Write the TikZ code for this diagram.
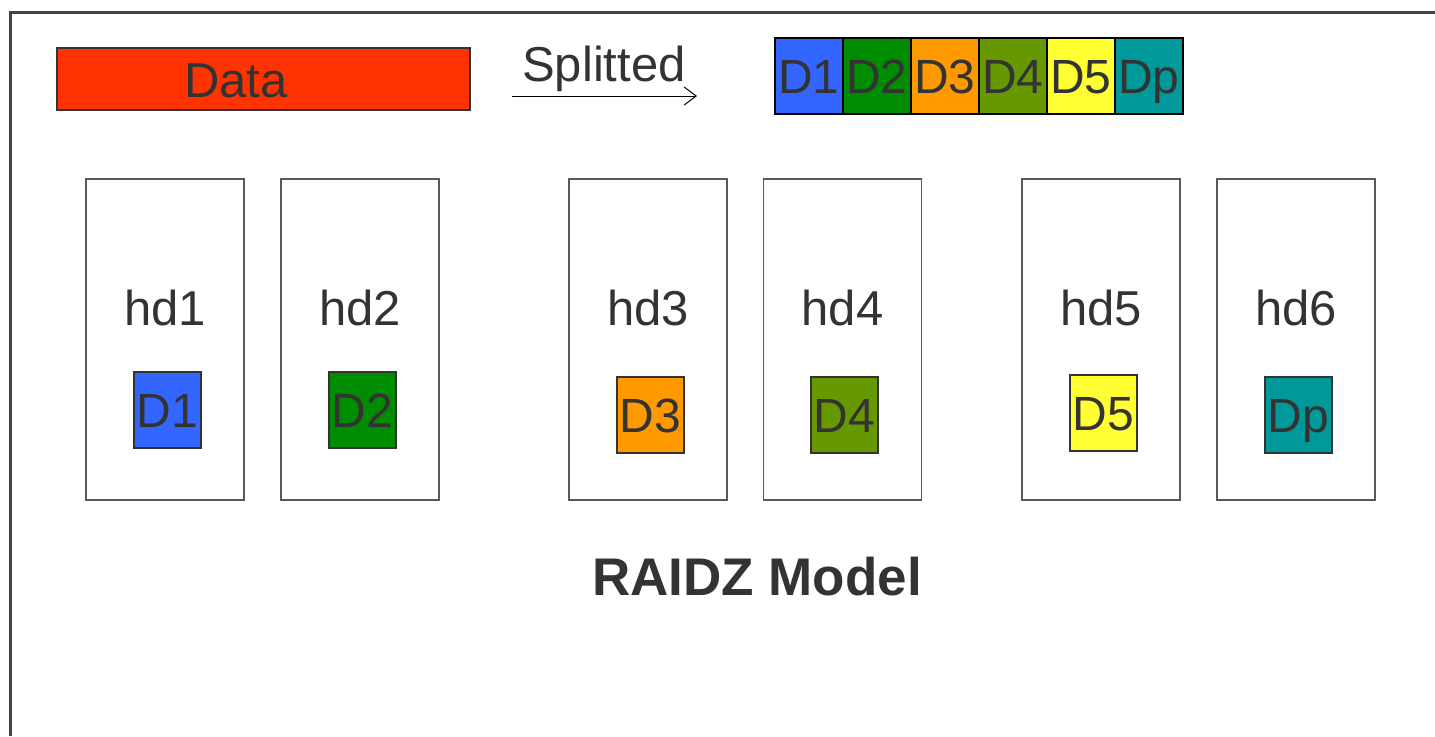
\documentclass[tikz,border=0pt]{standalone}
\usepackage{fontspec}
\setmainfont{Liberation Sans}
\usetikzlibrary{arrows.meta}
\definecolor{txt}{HTML}{333333}
\definecolor{frm}{HTML}{444444}
\definecolor{datared}{HTML}{FF3300}
\definecolor{cA}{HTML}{3366FF}
\definecolor{cB}{HTML}{008C00}
\definecolor{cC}{HTML}{FF9900}
\definecolor{cD}{HTML}{669900}
\definecolor{cE}{HTML}{FFFF33}
\definecolor{cF}{HTML}{009999}
\tikzset{
  lbl/.style={font=\fontsize{24.5}{28}\selectfont, text=txt, inner sep=0pt},
  cell/.style={draw=black, line width=1pt, minimum width=34pt, minimum height=38pt, inner sep=0pt, font=\fontsize{24}{28}\selectfont, text=txt, text height=17.5pt, text depth=0pt},
  chunk/.style={draw=black!80, line width=0.8pt, minimum width=33.5pt, minimum height=38pt, inner sep=0pt, font=\fontsize{24}{28}\selectfont, text=txt, text height=17.5pt, text depth=0pt},
  disk/.style={draw=black!65, line width=0.9pt, minimum width=79pt, minimum height=160.5pt, inner sep=0pt},
}
\begin{document}
\begin{tikzpicture}[x=0.5pt,y=-0.5pt]
\useasboundingbox[fill=white] (0,0) rectangle (1435,736);
% frame
\draw[frm, line width=1.5pt] (10,736) -- (10,12) -- (1435,12);
% data block
\node[draw=black!80, line width=0.8pt, fill=datared, minimum width=206.5pt, minimum height=31pt, inner sep=0pt] (data) at (263.5,79) {};
\node[lbl, text height=17.5pt, text depth=0pt] (datal) at (236,80) {Data};
% splitted arrow
\coordinate (as) at (512,96);
\coordinate (ae) at (697,96);
\draw[line width=0.5pt, -{Straight Barb[length=6pt,width=9pt]}] (as) -- (ae);
\node[lbl, anchor=base] (split) at (604,81) {Splitted};
% strip
\node[cell, fill=cA] (s1) at (809,76) {D1};
\node[cell, fill=cB] (s2) at (877,76) {D2};
\node[cell, fill=cC] (s3) at (945,76) {D3};
\node[cell, fill=cD] (s4) at (1013,76) {D4};
\node[cell, fill=cE] (s5) at (1081,76) {D5};
\node[cell, fill=cF] (s6) at (1149,76) {Dp};
% disks
\node[disk] (hd1) at (165,339.5) {};
\node[disk] (hd2) at (360,339.5) {};
\node[disk] (hd3) at (648,339.5) {};
\node[disk] (hd4) at (842.5,339.5) {};
\node[disk] (hd5) at (1101,339.5) {};
\node[disk] (hd6) at (1296,339.5) {};
\node[lbl] (l1) at (165,308) {hd1};
\node[lbl] (l2) at (360,308) {hd2};
\node[lbl] (l3) at (648,308) {hd3};
\node[lbl] (l4) at (842.5,308) {hd4};
\node[lbl] (l5) at (1101,308) {hd5};
\node[lbl] (l6) at (1296,308) {hd6};
% chunks
\node[chunk, fill=cA] (c1) at (167.5,410) {D1};
\node[chunk, fill=cB] (c2) at (362.5,410) {D2};
\node[chunk, fill=cC] (c3) at (650.5,415) {D3};
\node[chunk, fill=cD] (c4) at (844.5,415) {D4};
\node[chunk, fill=cE] (c5) at (1103.5,413) {D5};
\node[chunk, fill=cF] (c6) at (1298.5,415) {Dp};
% title
\node[lbl, font=\fontsize{26.5}{30}\selectfont\bfseries] (title) at (757,577) {RAIDZ Model};
\end{tikzpicture}
\end{document}
